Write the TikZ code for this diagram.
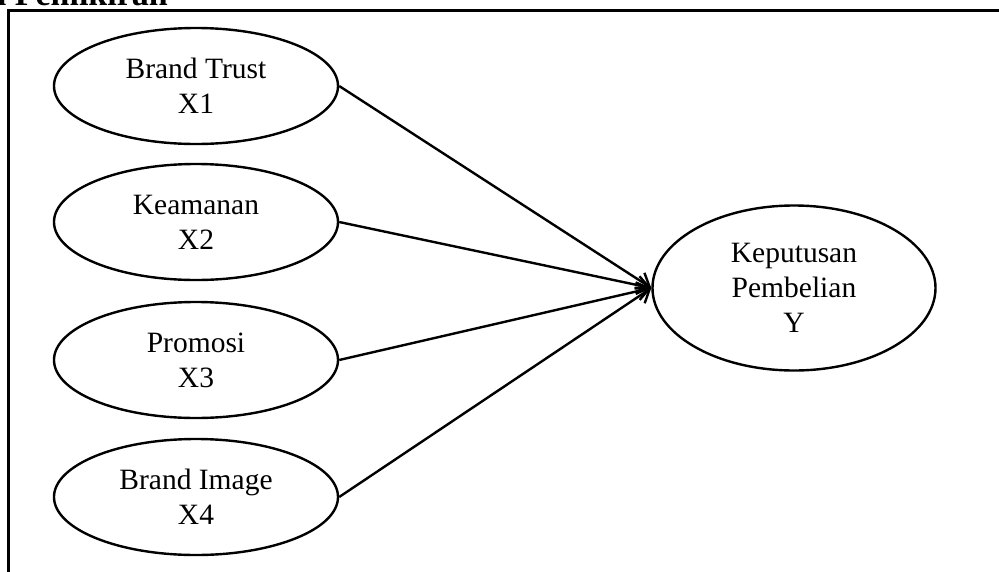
\documentclass[tikz,border=0pt]{standalone}
\usepackage{fontspec}
\setmainfont{Liberation Serif}
\usetikzlibrary{shapes.geometric,arrows.meta}
\begin{document}
\begin{tikzpicture}[x=1pt,y=-1pt,
  var/.style={draw=black,line width=2.4pt,ellipse,minimum width=284pt,minimum height=116pt,inner sep=0pt,align=center,font=\fontsize{29.5}{35}\selectfont},
  link/.style={line width=2.4pt,-{Straight Barb[length=12pt,width=18pt,line width=2.4pt]}}]
\useasboundingbox (0,0) rectangle (999,571);
\clip (0,0) rectangle (999,571);
\fill[white] (0,0) rectangle (999,571);
\node[anchor=base east,inner sep=0pt,font=\bfseries\fontsize{34}{40}\selectfont] (title) at (168,5) {Kerangka Pemikiran};
\draw[line width=3pt] (1010,10) -- (8,10) -- (8,600);
\node[var] (x1) at (196,86) {Brand Trust\\X1};
\node[var] (x2) at (196,222) {Keamanan\\X2};
\node[var] (x3) at (196,360) {Promosi\\X3};
\node[var] (x4) at (196,497) {Brand Image\\X4};
\node[var,minimum width=283pt,minimum height=165pt] (y) at (794,288) {Keputusan\\Pembelian\\Y};
\foreach \s in {x1,x2,x3,x4}
  \draw[link] (\s.east) -- (y.west);
\end{tikzpicture}
\end{document}
